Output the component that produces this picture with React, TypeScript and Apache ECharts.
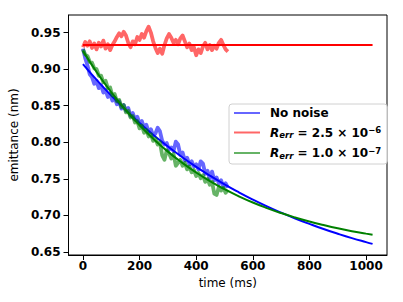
import React, { useEffect, useRef } from 'react';
import * as echarts from 'echarts';

const timeNoisy = [0, 8, 16, 24, 32, 40, 48, 56, 64, 72, 80, 88, 96, 104, 112, 120, 128, 136, 144, 152, 160, 168, 176, 184, 192, 200, 208, 216, 224, 232, 240, 248, 256, 264, 272, 280, 288, 296, 304, 312, 320, 328, 336, 344, 352, 360, 368, 376, 384, 392, 400, 408, 416, 424, 432, 440, 448, 456, 464, 472, 480, 488, 496, 504, 512];

const noNoiseData = [0.928, 0.915, 0.905, 0.893, 0.889, 0.880, 0.884, 0.874, 0.878, 0.868, 0.871, 0.862, 0.866, 0.857, 0.861, 0.852, 0.856, 0.846, 0.851, 0.843, 0.847, 0.836, 0.840, 0.831, 0.835, 0.826, 0.829, 0.820, 0.824, 0.814, 0.818, 0.809, 0.812, 0.820, 0.815, 0.802, 0.797, 0.799, 0.790, 0.793, 0.788, 0.801, 0.797, 0.783, 0.786, 0.775, 0.779, 0.770, 0.774, 0.767, 0.770, 0.763, 0.774, 0.771, 0.757, 0.761, 0.750, 0.760, 0.748, 0.752, 0.744, 0.748, 0.739, 0.744, 0.738];

const rErr25Data = [0.930, 0.937, 0.932, 0.938, 0.929, 0.935, 0.927, 0.936, 0.931, 0.939, 0.928, 0.934, 0.926, 0.933, 0.938, 0.944, 0.949, 0.945, 0.951, 0.946, 0.936, 0.930, 0.938, 0.934, 0.944, 0.940, 0.948, 0.943, 0.952, 0.958, 0.950, 0.938, 0.929, 0.922, 0.928, 0.921, 0.933, 0.942, 0.948, 0.943, 0.936, 0.940, 0.934, 0.942, 0.946, 0.938, 0.930, 0.935, 0.926, 0.930, 0.919, 0.927, 0.922, 0.931, 0.936, 0.927, 0.933, 0.926, 0.932, 0.928, 0.936, 0.940, 0.933, 0.927, 0.924];

const rErr10Data = [0.927, 0.920, 0.918, 0.910, 0.909, 0.901, 0.900, 0.891, 0.891, 0.882, 0.884, 0.874, 0.875, 0.864, 0.866, 0.856, 0.858, 0.848, 0.851, 0.841, 0.843, 0.834, 0.836, 0.827, 0.829, 0.819, 0.823, 0.813, 0.817, 0.808, 0.811, 0.802, 0.805, 0.797, 0.800, 0.782, 0.776, 0.789, 0.785, 0.778, 0.784, 0.768, 0.772, 0.776, 0.768, 0.772, 0.763, 0.767, 0.759, 0.762, 0.754, 0.758, 0.751, 0.755, 0.746, 0.750, 0.742, 0.746, 0.730, 0.728, 0.739, 0.734, 0.738, 0.731, 0.735];

const timeFit = [0, 50, 100, 150, 200, 250, 300, 350, 400, 450, 500, 550, 600, 650, 700, 750, 800, 850, 900, 950, 1000, 1023];
const noNoiseFit = [0.907, 0.8846, 0.8638, 0.8444, 0.8265, 0.8098, 0.7943, 0.7799, 0.7665, 0.7541, 0.7425, 0.7318, 0.7218, 0.7125, 0.7039, 0.6959, 0.6885, 0.6815, 0.6751, 0.6691, 0.6636, 0.6612];
const rErr25Fit = [0.933, 0.933, 0.933, 0.933, 0.933, 0.933, 0.933, 0.933, 0.933, 0.933, 0.933, 0.933, 0.933, 0.933, 0.933, 0.933, 0.933, 0.933, 0.933, 0.933, 0.933, 0.933];
const rErr10Fit = [0.925, 0.8951, 0.8684, 0.8445, 0.8233, 0.8043, 0.7873, 0.7722, 0.7587, 0.7466, 0.7359, 0.7263, 0.7177, 0.7101, 0.7033, 0.6972, 0.6917, 0.6869, 0.6825, 0.6786, 0.6752, 0.6737];

const xTicks = [0, 200, 400, 600, 800, 1000];
const yTicks = [0.65, 0.7, 0.75, 0.8, 0.85, 0.9, 0.95];

const legendNames = ['No noise', 'R_err = 2.5 × 10^−6', 'R_err = 1.0 × 10^−7'];

const FONT = 'DejaVu Sans';

function pairs(xs: number[], ys: number[]) {
  return xs.map((x, i) => [x, ys[i]]);
}

export default function App() {
  const ref = useRef<HTMLDivElement>(null);
  useEffect(() => {
    if (!ref.current) return;
    const chart = echarts.init(ref.current, undefined, { renderer: 'svg' });
    const noisyColors = ['rgba(0,0,255,0.6)', 'rgba(255,0,0,0.6)', 'rgba(0,128,0,0.6)'];
    const fitColors = ['#0000ff', '#ff0000', '#008000'];
    const noisy = [noNoiseData, rErr25Data, rErr10Data];
    const fits = [noNoiseFit, rErr25Fit, rErr10Fit];
    const series: any[] = [];
    for (let k = 0; k < 3; k++) {
      series.push({
        type: 'line',
        name: legendNames[k],
        data: pairs(timeNoisy, noisy[k]),
        showSymbol: false,
        color: noisyColors[k],
        lineStyle: { width: 3.8, color: noisyColors[k], join: 'round' },
        silent: true,
      });
      series.push({
        type: 'line',
        name: 'fit' + k,
        data: pairs(timeFit, fits[k]),
        showSymbol: false,
        smooth: true,
        color: fitColors[k],
        lineStyle: { width: 2, color: fitColors[k] },
        silent: true,
      });
    }
    const option: any = {
      animation: false,
      grid: { left: 65, right: 16, top: 15, bottom: 47, show: true, borderColor: '#000', borderWidth: 1, backgroundColor: 'transparent' },
      xAxis: {
        type: 'value',
        min: -51,
        max: 1074,
        name: 'time (ms)',
        nameLocation: 'middle',
        nameGap: 19,
        nameTextStyle: { fontFamily: FONT, fontSize: 12, color: '#000' },
        axisLine: { show: true, onZero: false, lineStyle: { color: '#000', width: 1 } },
        axisTick: { show: true, length: 5, lineStyle: { color: '#000' }, customValues: xTicks },
        axisLabel: { fontFamily: FONT, fontSize: 12, fontWeight: 'bold', color: '#000', margin: 5, customValues: xTicks, formatter: (v: number) => String(v) },
        splitLine: { show: false },
      },
      yAxis: {
        type: 'value',
        min: 0.646,
        max: 0.974,
        name: 'emittance (nm)',
        nameLocation: 'middle',
        nameGap: 37,
        nameTextStyle: { fontFamily: FONT, fontSize: 12, color: '#000' },
        axisLine: { show: true, onZero: false, lineStyle: { color: '#000', width: 1 } },
        axisTick: { show: true, length: 5, lineStyle: { color: '#000' }, customValues: yTicks },
        axisLabel: { fontFamily: FONT, fontSize: 12, fontWeight: 'bold', color: '#000', margin: 8, customValues: yTicks, formatter: (v: number) => v.toFixed(2) },
        splitLine: { show: false },
      },
      legend: {
        orient: 'vertical',
        left: 229,
        top: 104,
        padding: [3, 6, 4, 5],
        itemGap: 6.5,
        itemWidth: 26,
        itemHeight: 2,
        icon: 'rect',
        borderColor: '#d0d0d0',
        borderWidth: 1,
        borderRadius: 3,
        backgroundColor: 'rgba(255,255,255,0.8)',
        selectedMode: false,
        data: legendNames.map((n, i) => ({ name: n, itemStyle: { color: noisyColors[i] } })),
        formatter: (name: string) => {
          if (name.startsWith('R_err')) {
            const rest = name.slice(5);
            const [base, exp] = rest.split('^');
            return `{r|R}{s|err}{b|${base}}{p|${exp}}`;
          }
          return `{b|${name}}`;
        },
        textStyle: {
          padding: [0, 0, 0, 5],
          rich: {
            b: { fontFamily: FONT, fontSize: 12, fontWeight: 'bold', color: '#000', lineHeight: 14 },
            r: { fontFamily: FONT, fontSize: 12, fontWeight: 'bold', fontStyle: 'italic', color: '#000', lineHeight: 14 },
            s: { fontFamily: FONT, fontSize: 8.5, fontWeight: 'bold', fontStyle: 'italic', color: '#000', verticalAlign: 'bottom', lineHeight: 10 },
            p: { fontFamily: FONT, fontSize: 8.5, fontWeight: 'bold', color: '#000', verticalAlign: 'top', lineHeight: 10 },
          },
        },
      },
      series,
    };
    chart.setOption(option);
    return () => chart.dispose();
  }, []);
  return <div ref={ref} style={{ position: 'fixed', left: 0, top: 0, width: 403, height: 302, background: '#fff' }} />;
}
